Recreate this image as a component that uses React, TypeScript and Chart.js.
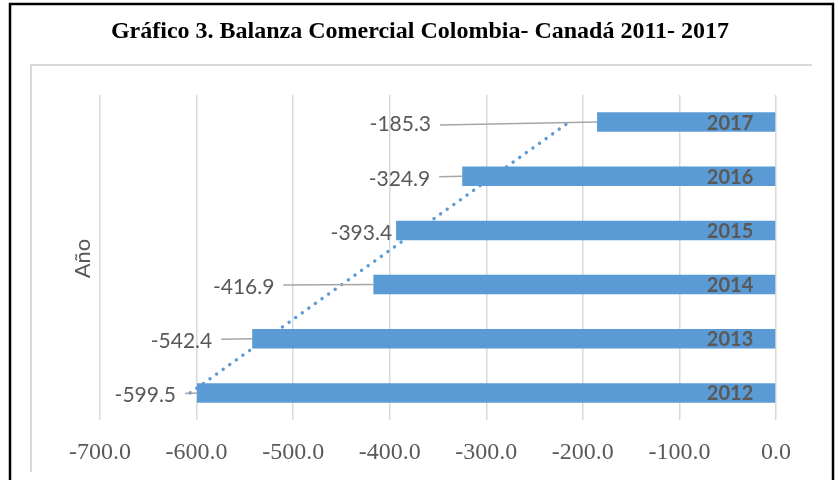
import { useEffect, useRef } from "react";
import { Chart, registerables } from "chart.js";

Chart.register(...registerables);

// ---- data ----
const years: string[] = ["2012", "2013", "2014", "2015", "2016", "2017"];
const balance: number[] = [-599.5, -542.4, -416.9, -393.4, -324.9, -185.3];
const xTickValues: number[] = [-700, -600, -500, -400, -300, -200, -100, 0];
const titleText = "Gráfico 3. Balanza Comercial Colombia- Canadá 2011- 2017";
const axisTitleText = "Año";

// ---- style (label placement, px to the left of each bar end) ----
const labelOffsets: number[] = [21, 40, 99, 4, 32, 166];

const BAR_COLOR = "#5B9BD5";
const TEXT_COLOR = "#595959";
const GRID_COLOR = "#D9D9D9";

// Excel-style linear trendline computed from the series
function linearTrend(vals: number[]): number[] {
  const n = vals.length;
  const mx = (n - 1) / 2;
  const my = vals.reduce((a, b) => a + b, 0) / n;
  let num = 0;
  let den = 0;
  vals.forEach((v, i) => {
    num += (i - mx) * (v - my);
    den += (i - mx) * (i - mx);
  });
  const slope = num / den;
  return vals.map((_, i) => my + slope * (i - mx));
}

const decorPlugin = {
  id: "decor",
  beforeDraw(chart: any) {
    const { ctx, width, height } = chart;
    ctx.save();
    ctx.fillStyle = "#ffffff";
    ctx.fillRect(0, 0, width, height);
    // outer black frame
    ctx.strokeStyle = "#000000";
    ctx.lineWidth = 2.5;
    ctx.beginPath();
    ctx.moveTo(10, height + 2);
    ctx.lineTo(10, 4);
    ctx.lineTo(833, 4);
    ctx.lineTo(833, height + 2);
    ctx.stroke();
    // inner light border
    ctx.strokeStyle = GRID_COLOR;
    ctx.lineWidth = 2;
    ctx.beginPath();
    ctx.moveTo(31, 472);
    ctx.lineTo(31, 65);
    ctx.lineTo(812, 65);
    ctx.stroke();
    // title
    ctx.fillStyle = "#000000";
    ctx.font = 'bold 24px "Liberation Serif"';
    ctx.textAlign = "center";
    ctx.textBaseline = "alphabetic";
    ctx.fillText(titleText, 420, 38);
    // axis title
    const area = chart.chartArea;
    ctx.translate(area.left - 17, (area.top + area.bottom) / 2 + 1);
    ctx.rotate(-Math.PI / 2);
    ctx.fillStyle = TEXT_COLOR;
    ctx.font = '22px "Lato"';
    ctx.textAlign = "center";
    ctx.textBaseline = "middle";
    ctx.fillText(axisTitleText, 0, 0);
    ctx.restore();
  },
  afterDatasetsDraw(chart: any) {
    const { ctx } = chart;
    const meta = chart.getDatasetMeta(0);
    ctx.save();
    meta.data.forEach((el: any, i: number) => {
      const barEnd = el.x;
      const base = el.base;
      const cy = el.y;
      // year label inside bar
      ctx.fillStyle = TEXT_COLOR;
      ctx.font = 'bold 20px "Lato"';
      ctx.textAlign = "right";
      ctx.textBaseline = "middle";
      ctx.fillText(years[i], base - 22, cy + 1);
      // value label + leader line
      const textRight = barEnd - labelOffsets[i];
      ctx.font = '21px "Lato"';
      ctx.fillText(balance[i].toFixed(1), textRight, cy + 2.5);
      const lineStart = textRight + 9;
      if (barEnd - lineStart > 4) {
        ctx.strokeStyle = "#A6A6A6";
        ctx.lineWidth = 1.5;
        ctx.beginPath();
        ctx.moveTo(lineStart, cy + (i === years.length - 1 ? 3 : 0.5));
        ctx.lineTo(barEnd, cy);
        ctx.stroke();
      }
    });
    ctx.restore();
  },
};

export default function App() {
  const canvasRef = useRef<HTMLCanvasElement | null>(null);

  useEffect(() => {
    if (!canvasRef.current) return;
    const chart = new Chart(canvasRef.current, {
      type: "bar",
      data: {
        labels: years,
        datasets: [
          {
            type: "bar",
            label: "Balanza",
            data: balance,
            backgroundColor: BAR_COLOR,
            borderWidth: 0,
            categoryPercentage: 1,
            barPercentage: 0.36,
            order: 1,
          } as any,
          {
            type: "line",
            label: "Tendencia",
            data: linearTrend(balance),
            indexAxis: "y",
            borderColor: BAR_COLOR,
            borderWidth: 3.4,
            borderDash: [0.1, 8],
            borderCapStyle: "round",
            pointRadius: 0,
            fill: false,
            order: 0,
          } as any,
        ],
      },
      options: {
        indexAxis: "y",
        animation: false,
        responsive: false,
        events: [],
        layout: { padding: { left: 100, right: 62, top: 95, bottom: 0 } },
        plugins: {
          legend: { display: false },
          tooltip: { enabled: false },
          title: { display: false },
        },
        scales: {
          x: {
            type: "linear",
            min: -700,
            max: 0,
            afterBuildTicks(scale: any) {
              scale.ticks = xTickValues.map((v) => ({ value: v }));
            },
            afterFit(scale: any) {
              scale.height = 60;
            },
            grid: { color: GRID_COLOR, lineWidth: 1.5, drawTicks: false },
            border: { display: false },
            ticks: {
              padding: 18,
              color: TEXT_COLOR,
              font: { family: "Liberation Serif", size: 24 },
              callback: (v: any) => Number(v).toFixed(1),
              maxRotation: 0,
            },
          },
          y: {
            type: "category",
            reverse: true,
            display: false,
          },
        },
      },
      plugins: [decorPlugin],
    });
    return () => chart.destroy();
  }, []);

  return (
    <div style={{ position: "fixed", left: 0, top: 0, width: 838, height: 480, background: "#fff" }}>
      <canvas ref={canvasRef} width={838} height={480} style={{ display: "block" }} />
    </div>
  );
}
